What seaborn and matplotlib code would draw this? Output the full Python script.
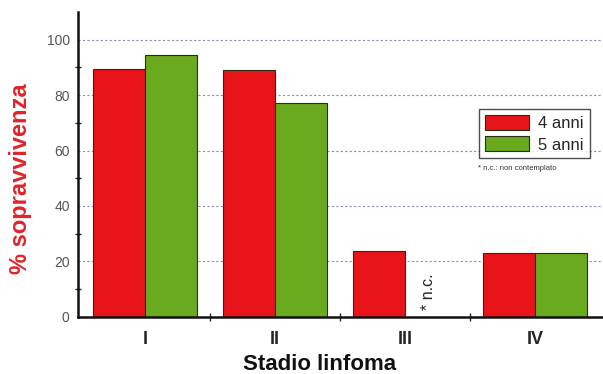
import matplotlib
matplotlib.use("Agg")
import matplotlib.pyplot as plt
import seaborn as sns
import pandas as pd
import numpy as np

stages = ["I", "II", "III", "IV"]
anni4 = [89.5, 89.0, 23.7, 23.0]
anni5 = [94.5, 77.0, np.nan, 23.0]
series = ["4 anni", "5 anni"]
colors = ["#E8141A", "#6AAA1E"]
yticks = [0, 20, 40, 60, 80, 100]

df = pd.DataFrame({
    "stadio": stages * 2,
    "serie": [series[0]] * 4 + [series[1]] * 4,
    "valore": anni4 + anni5,
})

sns.set_style("white")
plt.rcParams['font.family'] = ['Liberation Sans', 'DejaVu Sans']

fig = plt.figure(figsize=(6.03, 3.74), dpi=100)
ax = fig.add_axes([78/603, 57.3/374, 525/603, (316.7-12)/374])

sns.barplot(data=df, x="stadio", y="valore", hue="serie", palette=colors,
            width=0.8, edgecolor="#2a2a1a", linewidth=0.8, ax=ax, saturation=1)

ax.set_xlim(-0.515, 3.52)
ax.set_ylim(0, 110)
ax.set_yticks(yticks)
ax.set_yticks(np.arange(10, 110, 20), minor=True)
ax.set_xticks([0.5, 1.5, 2.5], minor=True)
ax.tick_params(axis='y', which='major', direction='inout', length=8, width=1, labelsize=10, labelcolor="#555555", pad=2)
ax.tick_params(axis='y', which='minor', direction='inout', length=5, width=1, left=True)
ax.tick_params(axis='x', which='major', length=0, labelsize=13, pad=10)
ax.tick_params(axis='x', which='minor', direction='inout', length=6, width=1, bottom=True)
for lab in ax.get_xticklabels():
    lab.set_fontweight('bold')

for y in yticks[1:]:
    ax.axhline(y, color="#8890b0", linestyle=(0, (2, 2)), linewidth=0.8, zorder=0)

for s in ["top", "right"]:
    ax.spines[s].set_visible(False)
ax.spines["left"].set_linewidth(1.8)
ax.spines["bottom"].set_linewidth(1.8)
ax.spines["left"].set_color("#111111")
ax.spines["bottom"].set_color("#111111")

ax.set_xlabel("")
ax.set_ylabel("")
fig.text(320/603, 1 - 364/374, "Stadio linfoma", fontsize=16, fontweight='bold',
         ha='center', va='center', color="#111111")
fig.text(21/603, 1 - 179/374, "% sopravvivenza", fontsize=17, fontweight='bold',
         ha='center', va='center', rotation=90, color="#E0242A")

leg = ax.legend(loc="upper left", bbox_to_anchor=((471-78)/525, (316.7-101)/304.7),
                frameon=True, fancybox=False, edgecolor="#222222", fontsize=12,
                handlelength=2.6, handleheight=1.0, borderpad=0.35, labelspacing=0.3,
                handletextpad=0.6)
leg.get_frame().set_linewidth(1.0)

fig.text(478/603, 1 - 168/374, "* n.c.: non contemplato", fontsize=5.5, va='center', ha='left', color="#333333")
ax.text(2.18, 2.5, "* n.c.", rotation=90, fontsize=11.5, ha='center', va='bottom', color="#222222")

fig.savefig("out.png", dpi=100)
